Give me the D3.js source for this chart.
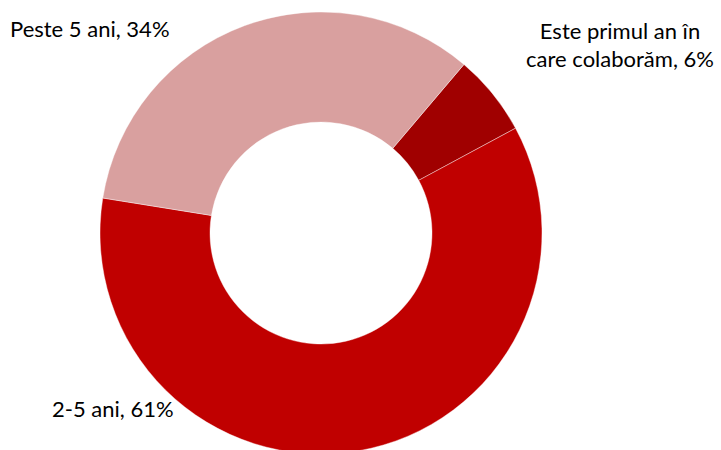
<!DOCTYPE html>
<html>
<head>
<meta charset="utf-8">
<script src="https://cdn.jsdelivr.net/npm/d3@7"></script>
<style>
html,body{margin:0;padding:0;background:#fff;}
svg{display:block;}
text{font-family:Lato,"Open Sans",sans-serif;font-size:22px;fill:#000;}
</style>
</head>
<body>
<svg id="chart" width="721" height="450"></svg>
<script>
const categories = ["Este primul an în care colaborăm", "2-5 ani", "Peste 5 ani"];
const values = [6, 61, 34];
const colors = ["#A00000", "#C00000", "#D9A09F"];
const labelLines = [["Este primul an în", "care colaborăm, 6%"], ["2-5 ani, 61%"], ["Peste 5 ani, 34%"]];

const svg = d3.select("#chart");
const cx = 321, cy = 233, outerR = 221, innerR = 111;
const startDeg = 40.3;

const pie = d3.pie().sort(null)
  .startAngle(startDeg * Math.PI / 180)
  .endAngle((startDeg + 360) * Math.PI / 180);
const arc = d3.arc().innerRadius(innerR).outerRadius(outerR);

const g = svg.append("g").attr("transform", `translate(${cx},${cy})`);
g.selectAll("path").data(pie(values)).join("path")
  .attr("d", arc)
  .attr("fill", (d, i) => colors[i])
  .attr("stroke", "#fff")
  .attr("stroke-width", 0.4);

const labelPos = [
  {x: 620, y: 39, anchor: "middle"},
  {x: 52, y: 417, anchor: "start"},
  {x: 10, y: 37, anchor: "start"}
];
labelLines.forEach((lines, i) => {
  const t = svg.append("text")
    .attr("x", labelPos[i].x)
    .attr("y", labelPos[i].y)
    .attr("text-anchor", labelPos[i].anchor);
  lines.forEach((ln, j) => {
    t.append("tspan").attr("x", labelPos[i].x).attr("dy", j === 0 ? 0 : 28).text(ln);
  });
});
</script>
</body>
</html>
